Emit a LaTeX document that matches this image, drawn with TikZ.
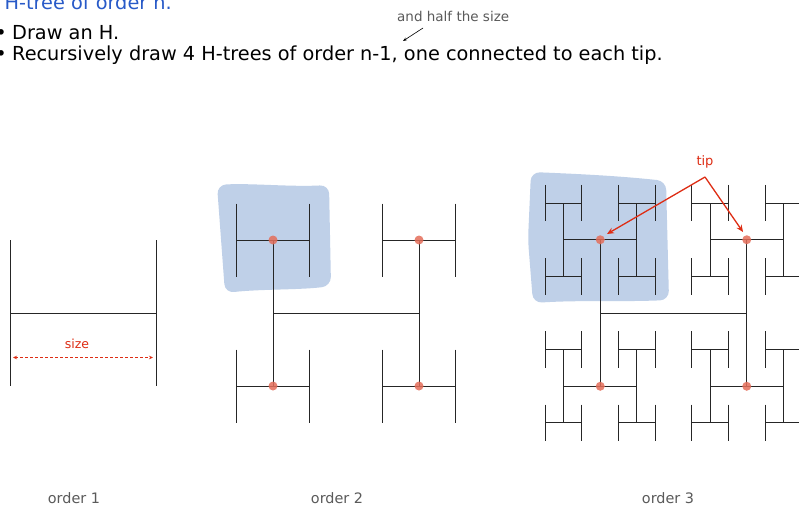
\documentclass[tikz,border=0pt]{standalone}
\usepackage{fontspec}
\setmainfont{DejaVu Sans}
\usetikzlibrary{arrows.meta}
\definecolor{blob}{RGB}{191,208,232}
\definecolor{tipred}{RGB}{222,45,20}
\definecolor{dotred}{RGB}{228,110,90}
\definecolor{titleblue}{RGB}{40,90,200}
\definecolor{labgray}{RGB}{90,90,90}
\tikzset{
  hline/.style={line width=0.95pt, draw=black!85},
  tipdot/.style={circle, fill=dotred, fill opacity=0.85, inner sep=0pt, minimum size=9pt},
  bigtext/.style={font=\fontsize{19.3}{21}\selectfont, inner sep=0pt},
  smalltext/.style={font=\fontsize{13.5}{15}\selectfont, inner sep=0pt, text=labgray},
  redtext/.style={font=\fontsize{12.5}{14}\selectfont, inner sep=0pt, text=tipred},
  blobstyle/.style={fill=blob, draw=none, rounded corners=9pt}
}
\newcommand\Htree[4]{%
  \ifnum#4>0\relax
  \begingroup
  \pgfmathsetmacro\HTx{#1}\pgfmathsetmacro\HTy{#2}\pgfmathsetmacro\HTs{#3}%
  \pgfmathsetmacro\HTl{\HTx-\HTs/2}\pgfmathsetmacro\HTr{\HTx+\HTs/2}%
  \pgfmathsetmacro\HTt{\HTy-\HTs/2}\pgfmathsetmacro\HTb{\HTy+\HTs/2}%
  \pgfmathsetmacro\HTh{\HTs/2}%
  \pgfmathtruncatemacro\HTn{#4-1}%
  \draw[hline] (\HTl,\HTt)--(\HTl,\HTb) (\HTl,\HTy)--(\HTr,\HTy) (\HTr,\HTt)--(\HTr,\HTb);
  \edef\HTnext{\noexpand\Htree{\HTl}{\HTt}{\HTh}{\HTn}\noexpand\Htree{\HTr}{\HTt}{\HTh}{\HTn}\noexpand\Htree{\HTl}{\HTb}{\HTh}{\HTn}\noexpand\Htree{\HTr}{\HTb}{\HTh}{\HTn}}%
  \HTnext
  \endgroup
  \fi}
\begin{document}
\begin{tikzpicture}[x=1pt,y=-1pt]
\clip (0,0) rectangle (799,509);
\fill[white] (0,0) rectangle (799,509);
% header text
\node[bigtext, text=titleblue, anchor=base east] (title) at (172,9) {H-tree of order n.};
\node[bigtext, anchor=base] (b1) at (1,39) {•};
\node[bigtext, anchor=base west] (l1) at (12,39) {Draw an H.};
\node[bigtext, anchor=base] (b2) at (1,60) {•};
\node[bigtext, anchor=base west] (l2) at (12,60) {Recursively draw 4 H-trees of order n-1, one connected to each tip.};
\node[smalltext, anchor=base west] (half) at (397,21) {and half the size};
\coordinate (halfa) at (423,28);
\coordinate (halfb) at (403,41);
\draw[-{Stealth[length=4pt,width=3pt]}, line width=0.6pt] (halfa) -- (halfb);
% blobs
\fill[blobstyle] (217,185) .. controls (250,183) and (290,187) .. (329,185) -- (331,286) .. controls (300,290) and (260,289) .. (225,293) -- cycle;
\fill[blobstyle] (531,172) .. controls (580,174) and (620,176) .. (666,181) -- (669,300) .. controls (620,302) and (580,300) .. (533,303) -- (528,240) -- cycle;
% H-trees
\Htree{83}{313}{146}{1}
\Htree{346}{313}{146}{2}
\Htree{673.5}{313}{146.5}{3}
% dots
\foreach \px/\py [count=\i] in {273/240,419/240,273/386,419/386,600.25/239.75,746.75/239.75,600.25/386.25,746.75/386.25}
  \node[tipdot] (d\i) at (\px,\py) {};
% size arrow
\node[redtext, anchor=base] (size) at (77,348) {size};
\coordinate (sa) at (13,357.5);
\coordinate (sb) at (153,357.5);
\draw[{Stealth[length=4pt,width=3.5pt]}-{Stealth[length=4pt,width=3.5pt]}, tipred, dashed, dash pattern=on 3pt off 2pt, line width=0.8pt] (sa) -- (sb);
% tip
\node[redtext, font=\fontsize{13}{15}\selectfont, anchor=base] (tip) at (705,165) {tip};
\coordinate (apex) at (705,177);
\draw[-{Stealth[length=7pt,width=6pt]}, tipred, line width=1.3pt] (apex) -- (607,234);
\draw[-{Stealth[length=7pt,width=6pt]}, tipred, line width=1.3pt] (apex) -- (743,232);
% order labels
\node[smalltext, font=\fontsize{14.4}{16}\selectfont, anchor=base] (o1) at (74,503) {order 1};
\node[smalltext, font=\fontsize{14.4}{16}\selectfont, anchor=base] (o2) at (337,503) {order 2};
\node[smalltext, font=\fontsize{14.4}{16}\selectfont, anchor=base] (o3) at (668,503) {order 3};
\end{tikzpicture}
\end{document}
